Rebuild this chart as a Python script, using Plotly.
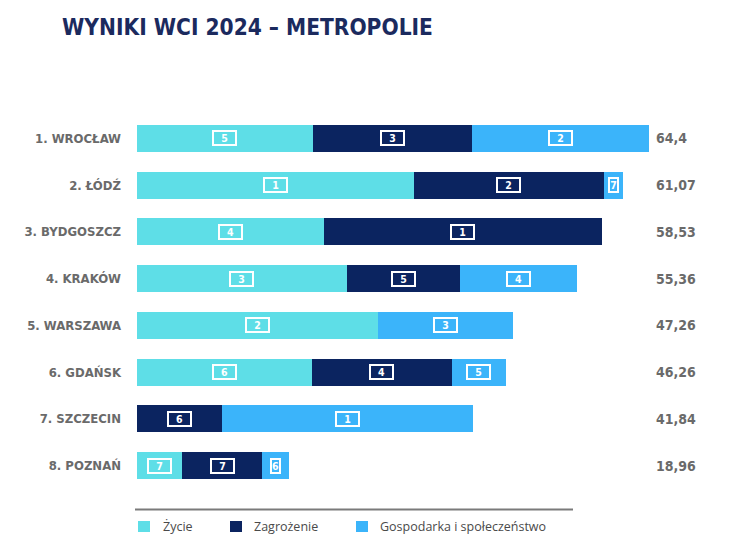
import plotly.graph_objects as go

# ---------------- data ----------------
cities = ["1. WROCŁAW", "2. ŁÓDŹ", "3. BYDGOSZCZ", "4. KRAKÓW",
          "5. WARSZAWA", "6. GDAŃSK", "7. SZCZECIN", "8. POZNAŃ"]
zycie = [22.1, 34.8, 23.5, 26.4, 30.3, 22.0, 0.0, 5.7]
zagrozenie = [20.1, 23.9, 35.0, 14.2, 0.0, 17.6, 10.7, 10.0]
gospodarka = [22.2, 2.4, 0.0, 14.8, 17.0, 6.8, 31.6, 3.4]
totals = ["64,4", "61,07", "58,53", "55,36", "47,26", "46,26", "41,84", "18,96"]
rank_zycie = [5, 1, 4, 3, 2, 6, None, 7]
rank_zagrozenie = [3, 2, 1, 5, None, 4, 6, 7]
rank_gospodarka = [2, 7, None, 4, 3, 5, 1, 6]
series_names = ["Życie", "Zagrożenie", "Gospodarka i społeczeństwo"]

# ---------------- style ----------------
C_ZYCIE = "#5EDEE7"
C_ZAGR = "#0B2460"
C_GOSP = "#3BB4FA"
colors = [C_ZYCIE, C_ZAGR, C_GOSP]
NARROW = "DejaVu Sans Condensed, Liberation Sans Narrow, Arial Narrow, sans-serif"
GRAY = "#6a6a6a"

OFF = 8  # page body margin: screen px = figure px + OFF
W, H = 730 - OFF, 550 - OFF
# plot area in screen pixels: x 137..667, y 115..489
ML = 137 - OFF
MT = 115 - OFF
MR = W - (667 - OFF)
MB = H - (489 - OFF)
PW, PH = W - ML - MR, H - MT - MB
PX_PER_UNIT = 7.95
XMAX = PW / PX_PER_UNIT


def px_x(px):
    return (px - OFF - ML) / PW


def px_y(py):
    return (H - MB - (py - OFF)) / PH


fig = go.Figure()
for name, vals, col in zip(series_names, [zycie, zagrozenie, gospodarka], colors):
    fig.add_trace(go.Bar(
        y=cities, x=vals, name=name, orientation="h",
        marker=dict(color=col, line=dict(width=0)),
        width=0.58, showlegend=False, hoverinfo="skip",
    ))

annotations = []
# rank boxes
for i, c in enumerate(cities):
    start = 0.0
    for vals, ranks in zip([zycie, zagrozenie, gospodarka],
                           [rank_zycie, rank_zagrozenie, rank_gospodarka]):
        v = vals[i]
        r = ranks[i]
        if v > 0 and r is not None:
            narrow = v < 4
            annotations.append(dict(
                x=start + v / 2, y=c, xref="x", yref="y",
                text=f"<b>{r}</b>", showarrow=False,
                font=dict(family=NARROW, size=10.5, color="white"),
                bordercolor="white", borderwidth=2, borderpad=0,
                width=7 if narrow else 21, height=12,
                align="center", valign="middle",
            ))
        start += v
    # total label
    annotations.append(dict(
        x=px_x(654), y=c, xref="paper", yref="y", xanchor="left",
        text=f"<b>{totals[i]}</b>", showarrow=False,
        font=dict(family=NARROW, size=14, color=GRAY),
    ))

# custom legend
shapes = [dict(type="line", xref="paper", yref="paper",
               x0=px_x(135), x1=px_x(573), y0=px_y(509.5), y1=px_y(509.5),
               line=dict(color="#7a7a7a", width=2))]
leg_sq = [138, 230, 356]
leg_tx = [161, 251.5, 378]
for name, col, sx, tx in zip(series_names, colors, leg_sq, leg_tx):
    shapes.append(dict(type="rect", xref="paper", yref="paper",
                       x0=px_x(sx), x1=px_x(sx + 12), y0=px_y(532), y1=px_y(521),
                       fillcolor=col, line=dict(width=0)))
    annotations.append(dict(
        x=px_x(tx), y=px_y(526.5), xref="paper", yref="paper",
        xanchor="left", yanchor="middle", text=name, showarrow=False,
        font=dict(family="Open Sans, sans-serif", size=12.5, color="#4a4a4a"),
    ))

fig.update_layout(
    width=W, height=H,
    margin=dict(l=ML, r=MR, t=MT, b=MB, autoexpand=False),
    barmode="stack", bargap=0.42,
    plot_bgcolor="white", paper_bgcolor="white",
    title=dict(text="<b>WYNIKI WCI 2024 – METROPOLIE</b>",
               x=(62 - OFF) / W, xanchor="left", xref="container",
               y=1 - (27 - OFF) / H, yanchor="middle", yref="container",
               font=dict(family=NARROW, size=22.5, color="#1B2A5E")),
    xaxis=dict(range=[0, XMAX], visible=False, fixedrange=True, automargin=False),
    yaxis=dict(categoryorder="array", categoryarray=cities, autorange="reversed",
               showgrid=False, zeroline=False, showline=False, ticks="",
               ticklabelstandoff=15, automargin=False,
               tickvals=cities, ticktext=[f"<b>{c}</b>" for c in cities],
               tickfont=dict(family=NARROW, size=13, color=GRAY)),
    annotations=annotations, shapes=shapes,
    showlegend=False,
)

fig.write_html("out.html")
